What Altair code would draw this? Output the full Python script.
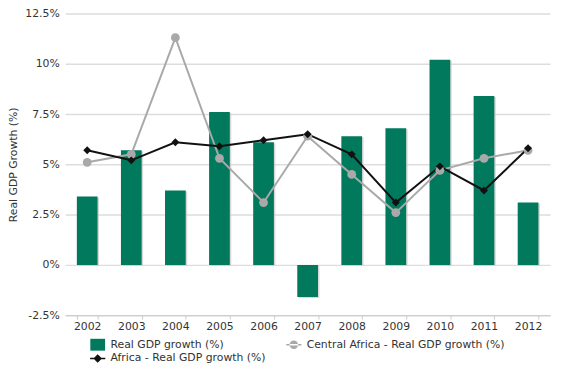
import altair as alt
import pandas as pd

years = ["2002", "2003", "2004", "2005", "2006", "2007", "2008", "2009", "2010", "2011", "2012"]
real_gdp = [3.4, 5.7, 3.7, 7.6, 6.1, -1.6, 6.4, 6.8, 10.2, 8.4, 3.1]
central_africa = [5.1, 5.5, 11.3, 5.3, 3.1, 6.4, 4.5, 2.6, 4.7, 5.3, 5.7]
africa = [5.7, 5.2, 6.1, 5.9, 6.2, 6.5, 5.5, 3.1, 4.9, 3.7, 5.8]
y_ticks = [-2.5, 0, 2.5, 5, 7.5, 10, 12.5]

S_BAR = "Real GDP growth (%)"
S_CA = "Central Africa - Real GDP growth (%)"
S_AF = "Africa - Real GDP growth (%)"
series_names = [S_BAR, S_CA, S_AF]
series_colors = ["#00795C", "#A9A9A9", "#111111"]
legend_shapes = [
    "M-1.07,-0.86H1.07V0.86H-1.07Z",
    "M-1.1,-0.12H1.1V0.12H-1.1Z M-0.62,0A0.62,0.62 0 1,0 0.62,0A0.62,0.62 0 1,0 -0.62,0Z",
    "M-1.1,-0.12H1.1V0.12H-1.1Z M0,-0.62L0.62,0L0,0.62L-0.62,0Z",
]

FONT = "DejaVu Sans"

bars_df = pd.DataFrame({"year": years, "value": real_gdp, "series": S_BAR})
lines_df = pd.concat([
    pd.DataFrame({"year": years, "value": central_africa, "series": S_CA}),
    pd.DataFrame({"year": years, "value": africa, "series": S_AF}),
], ignore_index=True)

x_axis = alt.Axis(title=None, labelAngle=0, grid=False, domainColor="#cccccc",
                  tickColor="#cccccc", tickSize=4, tickBand="extent",
                  labelFont=FONT, labelFontSize=11, labelColor="#333333", labelPadding=2)
x_scale = alt.Scale(paddingInner=0.53, paddingOuter=0.265)
y_axis = alt.Axis(title="Real GDP Growth (%)", values=y_ticks, labelExpr="datum.value + '%'",
                  domain=False, ticks=False, gridColor="#dddddd", gridWidth=1.5,
                  labelFont=FONT, labelFontSize=11, labelColor="#333333", labelPadding=6,
                  titleFont=FONT, titleFontSize=11, titleFontWeight="normal",
                  titleColor="#333333", titlePadding=6)
y_scale = alt.Scale(domain=[-2.5, 12.5], nice=False, zero=False)


def xe():
    return alt.X("year:N", sort=years, scale=x_scale, axis=x_axis)


def ye():
    return alt.Y("value:Q", scale=y_scale, axis=y_axis)


legend = alt.Legend(
    title=None, orient="none", legendX=26, legendY=329, direction="horizontal",
    columns=2, gridAlign="none", columnPadding=20, rowPadding=0,
    symbolSize=196, symbolStrokeWidth=0, symbolOpacity=1, labelLimit=0,
    labelFont=FONT, labelFontSize=11, labelColor="#333333", labelOffset=6,
)
color_enc = alt.Color("series:N", scale=alt.Scale(domain=series_names, range=series_colors), legend=legend)
shape_enc = alt.Shape("series:N", scale=alt.Scale(domain=series_names, range=legend_shapes), legend=legend)

shadow = alt.Chart(bars_df).mark_bar(color="#c8c8c8", opacity=0.7, xOffset=1.5, yOffset=1).encode(
    x=xe(), y=ye()
)
bars = alt.Chart(bars_df).mark_bar().encode(x=xe(), y=ye(), color=color_enc)

lines = alt.Chart(lines_df).mark_line(strokeWidth=2).encode(
    x=xe(), y=ye(), color=color_enc, detail="series:N"
)
pts_ca = alt.Chart(lines_df).transform_filter(alt.datum.series == S_CA).mark_point(
    filled=True, opacity=1, shape="circle", size=80
).encode(x=xe(), y=ye(), color=color_enc)
pts_af = alt.Chart(lines_df).transform_filter(alt.datum.series == S_AF).mark_point(
    filled=True, opacity=1, shape="diamond", size=64
).encode(x=xe(), y=ye(), color=color_enc)

legend_helper = alt.Chart(lines_df).transform_filter("false").mark_point(filled=True, opacity=1).encode(
    x=xe(), y=ye(), color=color_enc, shape=shape_enc
)

chart = (
    alt.layer(shadow, bars, lines, pts_ca, pts_af, legend_helper)
    .properties(
        width=492, height=306,
        autosize=alt.AutoSizeParams(type="none"),
        padding={"left": 58, "top": 3, "right": 7, "bottom": 51},
    )
    .configure(background="white")
    .configure_view(stroke=None, strokeWidth=0)
)

chart.save("out.html", embed_options={"renderer": "svg", "actions": False})
